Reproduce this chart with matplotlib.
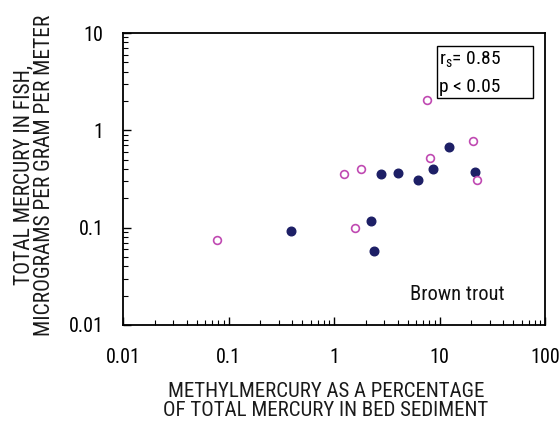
import numpy as np
import matplotlib.pyplot as plt
from matplotlib.ticker import FixedLocator, FixedFormatter, NullFormatter
from matplotlib.patches import Rectangle
from matplotlib import font_manager

# open symbols (magenta)
open_x = [0.078, 1.25, 1.82, 1.58, 7.64, 8.15, 20.6, 22.6]
open_y = [0.075, 0.355, 0.40, 0.10, 2.05, 0.52, 0.776, 0.308]
# filled symbols (navy)
fill_x = [0.39, 2.24, 2.39, 2.76, 4.02, 6.24, 8.7, 12.2, 21.9]
fill_y = [0.093, 0.117, 0.058, 0.355, 0.366, 0.306, 0.40, 0.67, 0.37]

xtick_vals = [0.01, 0.1, 1, 10, 100]
xtick_labels = ["0.01", "0.1", "1", "10", "100"]
ytick_vals = [0.01, 0.1, 1, 10]
ytick_labels = ["0.01", "0.1", "1", "10"]

# pick a condensed face if one is there
names = {f.name for f in font_manager.fontManager.ttflist}
fam = "DejaVu Sans"
for cand in ["Roboto Condensed", "Liberation Sans Narrow", "Archivo Narrow",
             "Asap Condensed", "Barlow Semi Condensed"]:
    if cand in names:
        fam = cand
        break
plt.rcParams['font.family'] = [fam, 'DejaVu Sans']
plt.rcParams['mathtext.fontset'] = 'custom'
plt.rcParams['mathtext.rm'] = fam

W, H = 559, 428
L, R, T, B = 123, 545, 33, 325
fig = plt.figure(figsize=(W / 100, H / 100), dpi=100)
ax = fig.add_axes([L / W, 1 - B / H, (R - L) / W, (B - T) / H])

navy = "#1d1f66"
magenta = "#c04ab2"
ax.plot(fill_x, fill_y, 'o', color=navy, markersize=6.2, linestyle='none', zorder=3)
ax.plot(open_x, open_y, 'o', markerfacecolor='white', markeredgecolor=magenta,
        markeredgewidth=1.2, markersize=5.6, linestyle='none', zorder=3)

ax.set_xscale('log')
ax.set_yscale('log')
ax.set_xlim(0.01, 100)
ax.set_ylim(0.01, 10)

minor_x = [m * 10.0 ** e for e in range(-2, 2) for m in range(2, 10)]
minor_y = [m * 10.0 ** e for e in range(-2, 1) for m in range(2, 10)]
ax.xaxis.set_major_locator(FixedLocator(xtick_vals))
ax.xaxis.set_major_formatter(FixedFormatter(xtick_labels))
ax.yaxis.set_major_locator(FixedLocator(ytick_vals))
ax.yaxis.set_major_formatter(FixedFormatter(ytick_labels))
ax.xaxis.set_minor_locator(FixedLocator(minor_x))
ax.yaxis.set_minor_locator(FixedLocator(minor_y))
ax.xaxis.set_minor_formatter(NullFormatter())
ax.yaxis.set_minor_formatter(NullFormatter())

ax.tick_params(which='both', direction='in', top=False, right=False,
               labelsize=14.5, color='black', labelcolor='black')
ax.tick_params(which='major', length=6, width=1)
ax.tick_params(which='minor', length=3.5, width=0.8)
ax.tick_params(axis='x', which='major', pad=16.5)
ax.tick_params(axis='y', which='major', pad=14)
for s in ax.spines.values():
    s.set_linewidth(1.3)
    s.set_color('black')

# axis titles
fig.text(326 / W, 1 - 401 / H,
         "METHYLMERCURY AS A PERCENTAGE\nOF TOTAL MERCURY IN BED SEDIMENT",
         ha='center', va='center', fontsize=15, linespacing=1.0, color='#1a1a1a')
fig.text(34 / W, 1 - 175 / H,
         "TOTAL MERCURY IN FISH,\nMICROGRAMS PER GRAM PER METER",
         ha='center', va='center', rotation=90, fontsize=15.5, linespacing=0.95,
         color='#1a1a1a')

ax.text((457 - L) / (R - L), (B - 294) / (B - T), "Brown trout",
        transform=ax.transAxes, ha='center', va='center', fontsize=14.8,
        color='#111111')

# statistics box
bx0, bx1 = (437 - L) / (R - L), (533 - L) / (R - L)
by0, by1 = (B - 98) / (B - T), (B - 46) / (B - T)
ax.add_patch(Rectangle((bx0, by0), bx1 - bx0, by1 - by0, transform=ax.transAxes,
                       facecolor='white', edgecolor='black', linewidth=1.0, zorder=4))
ax.text((439 - L) / (R - L), (B - 60) / (B - T), r"r$_{\mathregular{s}}$= 0.85",
        transform=ax.transAxes, ha='left', va='center', fontsize=14, zorder=5)
ax.text((439 - L) / (R - L), (B - 87) / (B - T), "p < 0.05",
        transform=ax.transAxes, ha='left', va='center', fontsize=14, zorder=5)

fig.savefig("out.png", dpi=100)
